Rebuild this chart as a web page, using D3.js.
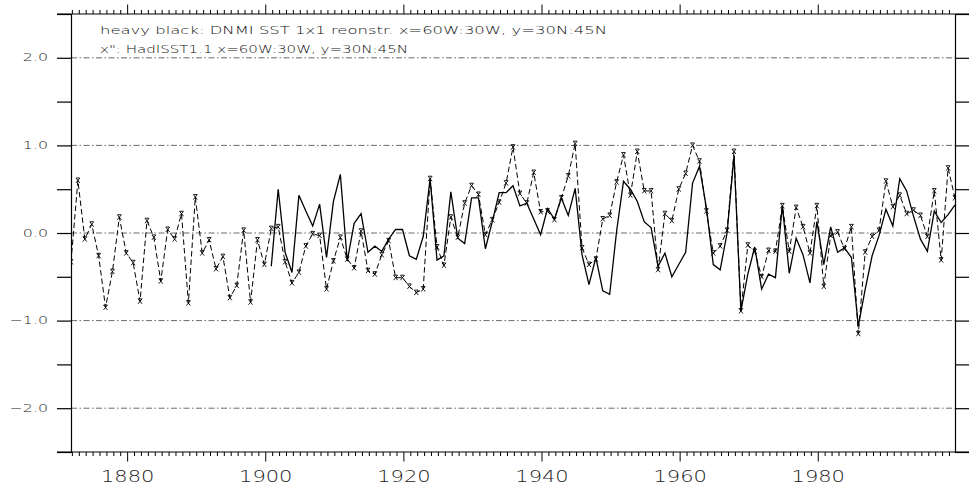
<!DOCTYPE html>
<html>
<head>
<meta charset="utf-8">
<script src="https://cdn.jsdelivr.net/npm/d3@7"></script>
<style>
  html, body { margin: 0; padding: 0; background: #fff; }
  svg { display: block; }
</style>
</head>
<body>
<svg id="chart" width="969" height="487"></svg>
<script>
// SST anomaly (deg C), box x=60W:30W, y=30N:45N
const hadYears = d3.range(1872, 2001);
const hadSST = [
  -0.33, 0.60, -0.07, 0.10, -0.26, -0.85, -0.44, 0.18, -0.23, -0.34,   // 1872-1881
  -0.78, 0.14, -0.05, -0.55, 0.04, -0.07, 0.22, -0.80, 0.41, -0.23,    // 1882-1891
  -0.08, -0.41, -0.27, -0.74, -0.60, 0.03, -0.79, -0.08, -0.36, 0.05,  // 1892-1901
  0.07, -0.33, -0.57, -0.45, -0.15, -0.01, -0.03, -0.64, -0.32, -0.05, // 1902-1911
  -0.30, -0.40, 0.02, -0.43, -0.47, -0.25, -0.09, -0.51, -0.51, -0.61, // 1912-1921
  -0.68, -0.64, 0.62, -0.16, -0.37, 0.18, -0.05, 0.34, 0.54, 0.44,     // 1922-1931
  -0.02, 0.15, 0.35, 0.57, 0.98, 0.45, 0.34, 0.69, 0.24, 0.25,         // 1932-1941
  0.15, 0.40, 0.65, 1.02, -0.17, -0.36, -0.30, 0.16, 0.20, 0.58,       // 1942-1951
  0.89, 0.43, 0.93, 0.48, 0.48, -0.42, 0.22, 0.14, 0.50, 0.68,         // 1952-1961
  1.00, 0.82, 0.25, -0.23, -0.15, 0.03, 0.93, -0.89, -0.14, -0.21,     // 1962-1971
  -0.50, -0.20, -0.21, 0.31, -0.21, 0.29, 0.07, -0.23, 0.31, -0.61,    // 1972-1981
  -0.03, 0.01, -0.18, 0.07, -1.15, -0.22, -0.04, 0.03, 0.59, 0.30,     // 1982-1991
  0.43, 0.22, 0.26, 0.20, -0.04, 0.48, -0.31, 0.74, 0.40               // 1992-2000
];

const dnmiYears = d3.range(1901, 2001);
const dnmiSST = [
  -0.38, 0.50, -0.22, -0.45, 0.43, 0.25, 0.08, 0.33, -0.28, 0.36,      // 1901-1910
  0.67, -0.32, 0.11, 0.22, -0.22, -0.15, -0.21, -0.07, 0.04, 0.04,     // 1911-1920
  -0.26, -0.30, -0.04, 0.62, -0.31, -0.26, 0.47, -0.06, -0.12, 0.40,   // 1921-1930
  0.40, -0.18, 0.13, 0.46, 0.46, 0.54, 0.31, 0.34, 0.16, -0.02,        // 1931-1940
  0.28, 0.16, 0.40, 0.20, 0.51, -0.25, -0.59, -0.28, -0.66, -0.70,     // 1941-1950
  0.02, 0.59, 0.50, 0.36, 0.13, 0.06, -0.38, -0.23, -0.50, -0.36,      // 1951-1960
  -0.22, 0.57, 0.76, 0.29, -0.36, -0.42, 0.00, 0.88, -0.89, -0.47,     // 1961-1970
  -0.16, -0.64, -0.47, -0.51, 0.31, -0.46, -0.06, -0.25, -0.57, 0.13,  // 1971-1980
  -0.36, 0.07, -0.22, -0.17, -0.28, -1.06, -0.64, -0.26, -0.03, 0.27,  // 1981-1990
  0.08, 0.62, 0.48, 0.19, -0.07, -0.21, 0.25, 0.12, 0.21, 0.32         // 1991-2000
];

const yTickValues = [-2.5, -2, -1.5, -1, -0.5, 0, 0.5, 1, 1.5, 2, 2.5];
const yTickLabels = ["-2.0", "-1.0", "0.0", "1.0", "2.0"];
const gridValues = [-2, -1, 0, 1, 2];
const xTickLabels = ["1880", "1900", "1920", "1940", "1960", "1980"];
const headerLines = [
  "heavy black: DNMI SST 1x1 reonstr. x=60W:30W, y=30N:45N",
  "x\": HadISST1.1 x=60W:30W, y=30N:45N"
];

// annual samples sit slightly before the labelled year boundary
const sampleShift = -0.2;

const svg = d3.select("#chart");
const L = 71, R = 955, T = 14, B = 452;
const labelFont = "DejaVu Sans, Liberation Sans, sans-serif";

const x = d3.scaleLinear().domain([1872 + sampleShift, 2000 + sampleShift]).range([L, R]);
const y = d3.scaleLinear().domain([-2.5, 2.5]).range([B, T]);

svg.append("clipPath").attr("id", "plotArea")
  .append("rect").attr("x", L).attr("y", T).attr("width", R - L).attr("height", B - T);

// dash-dot reference lines
svg.append("g").selectAll("line").data(gridValues).join("line")
  .attr("x1", L).attr("x2", R)
  .attr("y1", d => y(d)).attr("y2", d => y(d))
  .attr("stroke", "#6a6a6a").attr("stroke-width", 1)
  .attr("stroke-dasharray", "6,2.5,1.5,2.5");

// left and right axes: ticks every 0.5, pointing outward
const leftAxis = d3.axisLeft(y).tickValues(yTickValues).tickSize(14).tickFormat("");
const rightAxis = d3.axisRight(y).tickValues(yTickValues).tickSize(14).tickFormat("");
const gl = svg.append("g").attr("transform", `translate(${L},0)`).call(leftAxis);
const gr = svg.append("g").attr("transform", `translate(${R},0)`).call(rightAxis);
[gl, gr].forEach(g => {
  g.select(".domain").attr("stroke", "#000").attr("stroke-width", 1.2);
  g.selectAll(".tick line").attr("stroke", "#000").attr("stroke-width", 1.2);
});

// year ticks along top and bottom, longer every 20 years
const allYears = d3.range(1872, 2000);
const xt = d => x(d);
function yearTicks(yBase, dir) {
  const g = svg.append("g");
  g.selectAll("line").data(allYears).join("line")
    .attr("x1", xt).attr("x2", xt)
    .attr("y1", yBase)
    .attr("y2", d => yBase + dir * (d % 20 === 0 ? 9.5 : 4))
    .attr("stroke", "#000").attr("stroke-width", 1);
  g.append("line").attr("x1", L - 14).attr("x2", R + 14)
    .attr("y1", yBase).attr("y2", yBase)
    .attr("stroke", "#000").attr("stroke-width", 1.2);
}
yearTicks(T, -1);
yearTicks(B, 1);

// year labels
svg.append("g").selectAll("text").data(xTickLabels).join("text")
  .attr("transform", d => `translate(${x(+d)},481.5) scale(1.4,1)`)
  .attr("text-anchor", "middle")
  .attr("font-family", labelFont)
  .attr("font-weight", 200)
  .attr("font-size", 15)
  .attr("fill", "#222")
  .text(d => d);

// value labels
svg.append("g").selectAll("text").data(yTickLabels).join("text")
  .attr("transform", d => `translate(48,${y(+d) + 3.6}) scale(1.65,1)`)
  .attr("text-anchor", "end")
  .attr("font-family", labelFont)
  .attr("font-weight", 200)
  .attr("font-size", 9.6)
  .attr("fill", "#222")
  .text(d => d.replace("-", "\u2212"));

// series
const plot = svg.append("g").attr("clip-path", "url(#plotArea)");
const line = d3.line().x(d => x(d[0] + sampleShift)).y(d => y(d[1]));

const hadPts = hadYears.map((yr, i) => [yr, hadSST[i]]);
const dnmiPts = dnmiYears.map((yr, i) => [yr, dnmiSST[i]]);

plot.append("path").datum(dnmiPts).attr("d", line)
  .attr("fill", "none").attr("stroke", "#000").attr("stroke-width", 1.3)
  .attr("stroke-linejoin", "miter");

plot.append("path").datum(hadPts).attr("d", line)
  .attr("fill", "none").attr("stroke", "#000").attr("stroke-width", 1)
  .attr("stroke-dasharray", "5.5,3");

// x-shaped symbols with a cap bar on the HadISST samples
plot.append("g").selectAll("path").data(hadPts).join("path")
  .attr("transform", d => `translate(${x(d[0] + sampleShift)},${y(d[1])})`)
  .attr("d", "M-2,-2.5L2,2.5M2,-2.5L-2,2.5M-1.8,-2.5L1.8,-2.5")
  .attr("fill", "none").attr("stroke", "#000").attr("stroke-width", 0.9);

// header notes
const hdr = svg.append("g")
  .attr("font-family", labelFont)
  .attr("font-weight", 200)
  .attr("font-size", 10.5).attr("fill", "#111");
hdr.append("text").attr("x", 100).attr("y", 34)
  .attr("textLength", 507).attr("lengthAdjust", "spacingAndGlyphs")
  .text(headerLines[0]);
hdr.append("text").attr("x", 100).attr("y", 52.5)
  .attr("textLength", 308).attr("lengthAdjust", "spacingAndGlyphs")
  .text(headerLines[1]);
</script>
</body>
</html>
